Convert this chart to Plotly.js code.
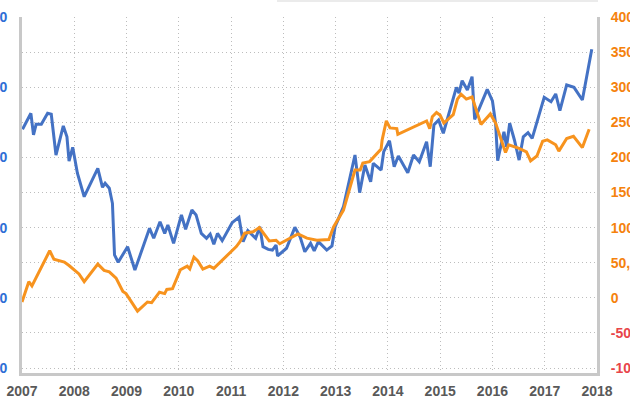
<!DOCTYPE html>
<html>
<head>
<meta charset="utf-8">
<script src="https://cdn.plot.ly/plotly-3.0.1.min.js"></script>
<style>
html,body{margin:0;padding:0;width:630px;height:414px;overflow:hidden;background:#fff;}
#chart{position:absolute;left:-60px;top:0;width:750px;height:414px;}
</style>
</head>
<body>
<div id="chart"></div>
<script>
// Blue series (left axis)
const blueX = [2007.01,2007.17,2007.22,2007.27,2007.37,2007.49,2007.56,2007.65,2007.79,2007.86,2007.90,2007.97,
  2008.06,2008.19,2008.45,2008.54,2008.59,2008.67,2008.73,2008.77,2008.84,2009.02,2009.16,2009.44,2009.52,2009.64,2009.73,
  2009.79,2009.90,2010.05,2010.13,2010.25,2010.33,2010.43,2010.53,2010.60,2010.67,2010.74,2010.83,2011.02,2011.15,2011.23,
  2011.32,2011.47,2011.55,2011.61,2011.71,2011.79,2011.86,2011.89,2012.06,2012.22,2012.32,2012.41,2012.52,2012.59,2012.67,
  2012.73,2012.83,2012.93,2012.99,2013.15,2013.37,2013.46,2013.56,2013.67,2013.72,2013.87,2013.92,2014.03,2014.12,2014.20,
  2014.38,2014.49,2014.60,2014.74,2014.81,2014.88,2014.97,2015.06,2015.31,2015.36,2015.42,2015.52,2015.61,2015.66,2015.90,
  2016.00,2016.06,2016.10,2016.22,2016.27,2016.33,2016.42,2016.51,2016.59,2016.68,2016.76,2016.99,2017.12,2017.21,2017.29,
  2017.42,2017.56,2017.72,2017.90];
const blueY = [1700,1814,1660,1736,1736,1814,1807,1517,1724,1647,1474,1572,
  1387,1220,1422,1287,1316,1280,1173,805,753,864,698,995,924,1042,959,
  1019,888,1090,988,1125,1090,959,924,954,881,959,907,1035,1073,900,
  978,924,1006,864,845,840,876,798,853,1002,935,828,888,835,900,
  876,840,869,1006,1149,1517,1249,1446,1327,1458,1410,1541,1619,1434,1510,
  1391,1517,1469,1612,1434,1731,1766,1672,1999,1957,2046,1980,2075,1771,1985,
  1902,1743,1477,1683,1576,1743,1624,1481,1647,1676,1636,1928,1897,1952,1833,
  2016,1999,1909,2270];

// Orange series (right axis)
const orangeX = [2007.00,2007.13,2007.19,2007.53,2007.61,2007.81,2007.90,2008.09,2008.19,2008.45,2008.57,2008.67,2008.80,
  2008.93,2008.99,2009.21,2009.40,2009.48,2009.63,2009.73,2009.77,2009.88,2010.03,2010.16,2010.21,2010.29,2010.36,2010.46,
  2010.59,2010.67,2011.10,2011.17,2011.26,2011.42,2011.54,2011.73,2011.86,2011.93,2012.28,2012.45,2012.64,2012.87,2012.96,
  2013.15,2013.37,2013.47,2013.52,2013.65,2013.87,2013.89,2013.97,2014.04,2014.17,2014.19,2014.74,2014.80,2014.85,2014.93,
  2015.00,2015.07,2015.25,2015.33,2015.40,2015.50,2015.61,2015.78,2015.96,2016.06,2016.25,2016.31,2016.51,2016.65,2016.73,
  2016.85,2016.96,2017.05,2017.21,2017.27,2017.42,2017.55,2017.72,2017.85];
const orangeY = [-6000,23000,17000,67000,55000,51000,46000,34000,23000,48000,39000,37000,28000,
  9000,6000,-19000,-6000,-7000,8000,6000,12000,13000,40000,45000,41000,58000,53000,41000,
  45000,42000,73000,80000,92000,94000,100000,81000,82000,77000,91000,85000,82000,83000,101000,
  125000,182000,182000,192000,194000,212000,225000,252000,242000,241000,233000,252000,241000,258000,264000,
  260000,249000,261000,283000,290000,283000,286000,247000,262000,249000,207000,218000,213000,208000,195000,
  202000,223000,225000,218000,209000,227000,230000,214000,240000];

// Axis tick labels
const yearTicks = [2007,2008,2009,2010,2011,2012,2013,2014,2015,2016,2017,2018];
const leftTickVals = [0,500,1000,1500,2000,2500];
const leftTickText = ['0','500','1,000','1,500','2,000','2,500'];
const rightTickVals = [-100000,-50000,0,50000,100000,150000,200000,250000,300000,350000,400000];
const rightTickText = rightTickVals.map(v => v < 0
  ? '<span style="color:#e8454a">' + v.toLocaleString('en-US') + '</span>'
  : v.toLocaleString('en-US'));

const traces = [
  {x: blueX, y: blueY, type: 'scatter', mode: 'lines', yaxis: 'y',
   line: {color: '#4472c4', width: 3}, showlegend: false},
  {x: orangeX, y: orangeY, type: 'scatter', mode: 'lines', yaxis: 'y2',
   line: {color: '#f7931e', width: 3}, showlegend: false}
];

const tickFontBase = {family: 'Liberation Sans, Arial, sans-serif', size: 14, weight: 'bold'};
const gridDash = '1px,3px';

const layout = {
  width: 750, height: 414,
  margin: {l: 82, r: 93, t: 17, b: 41, pad: 0},
  paper_bgcolor: '#ffffff', plot_bgcolor: '#ffffff',
  showlegend: false,
  xaxis: {
    range: [2007, 2018], tickvals: yearTicks, ticktext: yearTicks.map(String),
    showline: true, linecolor: '#c8c8c8', linewidth: 3,
    showgrid: true, gridcolor: '#bdbdbd', griddash: gridDash, gridwidth: 1,
    zeroline: false, ticks: 'outside', ticklen: 3, tickcolor: 'rgba(0,0,0,0)',
    tickfont: Object.assign({}, tickFontBase, {color: '#595959'}),
    fixedrange: true
  },
  yaxis: {
    range: [-35.6, 2500], tickvals: leftTickVals, ticktext: leftTickText,
    showline: true, linecolor: '#c8c8c8', linewidth: 3,
    showgrid: false, zeroline: false,
    ticks: 'outside', ticklen: 9, tickcolor: 'rgba(0,0,0,0)',
    tickfont: Object.assign({}, tickFontBase, {color: '#2f6fd6'}),
    fixedrange: true
  },
  yaxis2: {
    overlaying: 'y', side: 'right',
    range: [-107100, 400000], tickvals: rightTickVals, ticktext: rightTickText,
    showline: true, linecolor: '#c8c8c8', linewidth: 3,
    showgrid: true, gridcolor: '#bdbdbd', griddash: gridDash, gridwidth: 1,
    zeroline: false,
    ticks: 'outside', ticklen: 8, tickcolor: 'rgba(0,0,0,0)',
    tickfont: Object.assign({}, tickFontBase, {color: '#f5820d'}),
    fixedrange: true
  },
  shapes: [
    {type: 'rect', xref: 'paper', yref: 'paper', x0: 0.4435, x1: 1.0017, y0: 1.042, y1: 1.06,
     fillcolor: '#ebebeb', line: {width: 0}, layer: 'above'}
  ]
};

Plotly.newPlot('chart', traces, layout, {staticPlot: true, displayModeBar: false});
</script>
</body>
</html>
